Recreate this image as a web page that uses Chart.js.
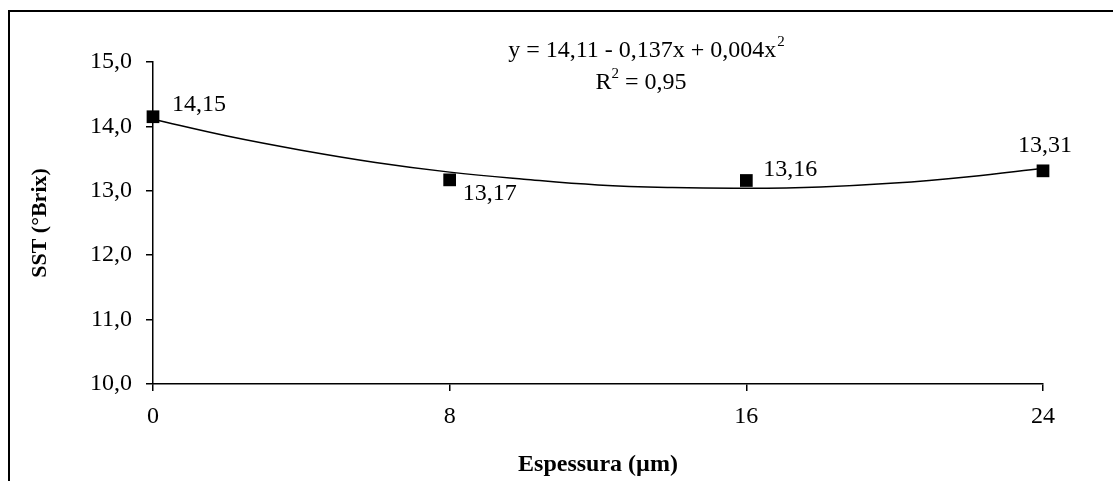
<!DOCTYPE html>
<html>
<head>
<meta charset="utf-8">
<script src="https://cdn.jsdelivr.net/npm/chart.js@4.4.1/dist/chart.umd.min.js"></script>
<style>
  html, body { margin: 0; padding: 0; background: #fff; }
  #wrap { width: 1113px; height: 481px; position: relative; }
</style>
</head>
<body>
<div id="wrap"><canvas id="chartSST"></canvas></div>
<script>
// ===============================
// DADOS
// ===============================
const espessura = [0, 8, 16, 24];
const sstMedia = [14.15, 13.17, 13.16, 13.31];
const sstRotulos = ["14,15", "13,17", "13,16", "13,31"];

// curva de tendência
const curvaX = [0, 2, 4, 6, 8, 10, 12, 14, 16, 18, 20, 22, 24];
const curvaY = [14.11, 13.85, 13.63, 13.44, 13.29, 13.18, 13.09, 13.05, 13.04, 13.06, 13.12, 13.22, 13.35];

const equacao = "y = 14,11 - 0,137x + 0,004x";
const r2Texto = " = 0,95";

const yMin = 10, yMax = 15, yPasso = 1;
const xMin = 0, xMax = 24, xPasso = 8;

// ===============================
// AUXILIAR
// ===============================
const FONTE = "'Liberation Serif', 'Times New Roman', serif";

function fmtVirgula(v) {
  return Number(v).toFixed(1).replace(".", ",");
}

// moldura externa
const molduraPlugin = {
  id: "moldura",
  beforeDraw(chart) {
    const ctx = chart.ctx;
    ctx.save();
    ctx.strokeStyle = "#000";
    ctx.lineWidth = 2;
    ctx.strokeRect(9, 11, 1300, 700);
    ctx.restore();
  }
};

// rótulos dos pontos + equação
const rotulosPlugin = {
  id: "rotulos",
  afterDatasetsDraw(chart) {
    const ctx = chart.ctx;
    const meta = chart.getDatasetMeta(1);
    const desloc = [
      { dx: 19, dy: -12, align: "left" },
      { dx: 13, dy: 14, align: "left" },
      { dx: 17, dy: -11, align: "left" },
      { dx: 2, dy: -25, align: "center" }
    ];
    ctx.save();
    ctx.fillStyle = "#000";
    ctx.font = "24px " + FONTE;
    ctx.textBaseline = "middle";
    meta.data.forEach((pt, i) => {
      const d = desloc[i];
      ctx.textAlign = d.align;
      ctx.fillText(sstRotulos[i], pt.x + d.dx, pt.y + d.dy);
    });

    // equação
    ctx.textAlign = "left";
    ctx.font = "24px " + FONTE;
    const w1 = ctx.measureText(equacao).width;
    ctx.font = "15px " + FONTE;
    const wSup = ctx.measureText("2").width;
    const x1 = 646 - (w1 + wSup) / 2;
    ctx.font = "24px " + FONTE;
    ctx.fillText(equacao, x1, 51);
    ctx.font = "15px " + FONTE;
    ctx.fillText("2", x1 + w1 + 1, 42);

    ctx.font = "24px " + FONTE;
    const wR = ctx.measureText("R").width;
    const wR2 = ctx.measureText(r2Texto).width;
    const x2 = 641 - (wR + wSup + wR2) / 2;
    ctx.fillText("R", x2, 83);
    ctx.font = "15px " + FONTE;
    ctx.fillText("2", x2 + wR, 74);
    ctx.font = "24px " + FONTE;
    ctx.fillText(r2Texto, x2 + wR + wSup, 83);
    ctx.restore();
  }
};

// ===============================
// GRÁFICO
// ===============================
const chartSST = new Chart(document.getElementById("chartSST"), {
  type: "scatter",
  data: {
    datasets: [
      {
        label: "Tendência",
        data: curvaX.map((x, i) => ({ x: x, y: curvaY[i] })),
        showLine: true,
        borderColor: "#000",
        borderWidth: 1.5,
        pointRadius: 0,
        tension: 0.4,
        fill: false,
        clip: false
      },
      {
        label: "SST",
        data: espessura.map((x, i) => ({ x: x, y: sstMedia[i] })),
        showLine: false,
        pointStyle: "rect",
        pointRadius: 9,
        backgroundColor: "#000",
        borderColor: "#000",
        borderWidth: 0,
        clip: false
      }
    ]
  },
  options: {
    responsive: true,
    maintainAspectRatio: false,
    animation: false,
    layout: { padding: { left: 0, top: 62, right: 70, bottom: 0 } },
    plugins: {
      legend: { display: false },
      tooltip: { enabled: false }
    },
    scales: {
      x: {
        type: "linear",
        min: xMin,
        max: xMax,
        afterFit: (s) => { s.height = 97; },
        ticks: {
          stepSize: xPasso,
          padding: 11,
          color: "#000",
          font: { family: FONTE, size: 24 },
          maxRotation: 0
        },
        grid: { drawOnChartArea: false, drawTicks: true, tickLength: 7, color: "#000", lineWidth: 1.5 },
        border: { display: true, color: "#000", width: 1.5 },
        title: {
          display: true,
          text: "Espessura (µm)",
          color: "#000",
          font: { family: FONTE, size: 24, weight: "bold" },
          padding: { top: 0, bottom: 2 }
        }
      },
      y: {
        min: yMin,
        max: yMax,
        afterFit: (s) => { s.width = 153; },
        ticks: {
          stepSize: yPasso,
          padding: 14,
          color: "#000",
          font: { family: FONTE, size: 24 },
          callback: (v) => fmtVirgula(v)
        },
        grid: { drawOnChartArea: false, drawTicks: true, tickLength: 7, color: "#000", lineWidth: 1.5 },
        border: { display: true, color: "#000", width: 1.5 },
        title: {
          display: true,
          text: "SST (°Brix)",
          color: "#000",
          font: { family: FONTE, size: 22, weight: "bold" },
          padding: { top: 27, bottom: 0 }
        }
      }
    }
  },
  plugins: [molduraPlugin, rotulosPlugin]
});
</script>
</body>
</html>
